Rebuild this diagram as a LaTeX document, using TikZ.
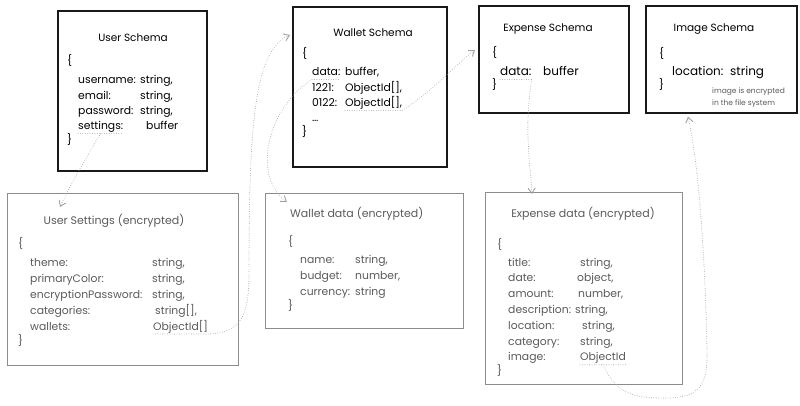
\documentclass[tikz,border=0pt]{standalone}
\usepackage{fontspec}
\setmainfont{Poppins}
\usetikzlibrary{calc,arrows.meta}
\definecolor{inkgray}{RGB}{90,90,90}
\definecolor{framegray}{RGB}{140,140,140}
\definecolor{linkgray}{RGB}{160,160,160}
\tikzset{
  schema-box/.style={draw=black!90, line width=1.6pt, anchor=north west, inner sep=0pt},
  crypt-box/.style={draw=framegray, line width=1pt, anchor=north west, inner sep=0pt},
  label-text/.style={inner sep=0pt, font=\fontsize{10.8}{13}\selectfont},
  box-title/.style={label-text, anchor=base, font=\fontsize{10.5}{13}\selectfont},
  field/.style={label-text, anchor=base west},
  field-big/.style={field, font=\fontsize{12}{14}\selectfont},
  field-gray/.style={field, text=inkgray},
  box-title-gray/.style={box-title, text=inkgray, font=\fontsize{11}{13}\selectfont},
  note/.style={field, text=inkgray, font=\fontsize{7.5}{9}\selectfont},
  underline/.style={draw=linkgray, line width=0.9pt, line cap=round, dash pattern=on 0pt off 2.4pt},
  link/.style={underline, -{Straight Barb[length=5pt,width=7pt,line cap=round]}}
}

\begin{document}
\begin{tikzpicture}[x=1pt,y=-1pt]
  \useasboundingbox (0,0) rectangle (800,406);

  % --- schema boxes (top row) ---
  \node[schema-box, minimum width=149pt, minimum height=160pt] (userschema) at (57,10) {};
  \node[schema-box, minimum width=154pt, minimum height=160pt] (walletschema) at (292,6) {};
  \node[schema-box, minimum width=150pt, minimum height=107pt] (expenseschema) at (478,5) {};
  \node[schema-box, minimum width=151pt, minimum height=107pt] (imageschema) at (645,5) {};

  % --- encrypted data boxes (bottom row) ---
  \node[crypt-box, minimum width=231pt, minimum height=172pt] (usersettings) at (7,193) {};
  \node[crypt-box, minimum width=198pt, minimum height=135pt] (walletdata) at (265,193) {};
  \node[crypt-box, minimum width=197pt, minimum height=192pt] (expensedata) at (485,192) {};

  % --- User Schema ---
  \node[box-title] (us-title) at (133,42) {User Schema};
  \node[field] (us-open) at (67,65) {\{};
  \foreach \k/\v/\vx [count=\i] in {username:/{string,}/140, email:/{string,}/140,
      password:/{string,}/140, settings:/buffer/146} {
    \node[field] (us-k\i) at (78,{84+15.3*(\i-1)}) {\k};
    \node[field] (us-v\i) at (\vx,{84+15.3*(\i-1)}) {\v};
  }
  \node[field] (us-close) at (67,144) {\}};

  % --- Wallet Schema ---
  \node[box-title] (ws-title) at (373,37) {Wallet Schema};
  \node[field] (ws-open) at (302,58) {\{};
  \foreach \k/\v [count=\i] in {data:/{buffer,}, 1221:/{ObjectId[],}, 0122:/{ObjectId[],}, \dots/{}} {
    \node[field] (ws-k\i) at (312,{76+15.3*(\i-1)}) {\k};
    \node[field] (ws-v\i) at (345,{76+15.3*(\i-1)}) {\v};
  }
  \node[field] (ws-close) at (302,136) {\}};

  % --- Expense Schema ---
  \node[box-title] (es-title) at (548,32) {Expense Schema};
  \node[field] (es-open) at (492,57) {\{};
  \node[field-big] (es-k1) at (500,76) {data:};
  \node[field-big] (es-v1) at (543,76) {buffer};
  \node[field] (es-close) at (492,89) {\}};

  % --- Image Schema ---
  \node[box-title] (is-title) at (714,32) {Image Schema};
  \node[field] (is-open) at (659,58) {\{};
  \node[field-big] (is-k1) at (672,76) {location:};
  \node[field-big] (is-v1) at (730,76) {string};
  \node[field] (is-close) at (659,89) {\}};
  \node[note] (is-note1) at (712,94) {image is encrypted};
  \node[note] (is-note2) at (712,106) {in the file system};

  % --- User Settings (encrypted) ---
  \node[box-title-gray] (set-title) at (114,225) {User Settings (encrypted)};
  \node[field-gray] (set-open) at (18,247) {\{};
  \foreach \k/\v/\vx [count=\i] in {theme:/{string,}/152, primaryColor:/{string,}/152,
      encryptionPassword:/{string,}/152, categories:/{string[],}/155, wallets:/{ObjectId[]}/153} {
    \node[field-gray] (set-k\i) at (30,{266+16*(\i-1)}) {\k};
    \node[field-gray] (set-v\i) at (\vx,{266+16*(\i-1)}) {\v};
  }
  \node[field-gray] (set-close) at (18,344) {\}};

  % --- Wallet data (encrypted) ---
  \node[box-title-gray, anchor=base west] (wd-title) at (290,217) {Wallet data (encrypted)};
  \node[field-gray] (wd-open) at (288,245) {\{};
  \foreach \k/\v [count=\i] in {name:/{string,}, budget:/{number,}, currency:/string} {
    \node[field-gray] (wd-k\i) at (300,{263+16*(\i-1)}) {\k};
    \node[field-gray] (wd-v\i) at (355,{263+16*(\i-1)}) {\v};
  }
  \node[field-gray] (wd-close) at (288,309) {\}};

  % --- Expense data (encrypted) ---
  \node[box-title-gray] (ed-title) at (583,217) {Expense data (encrypted)};
  \node[field-gray] (ed-open) at (497,248) {\{};
  \foreach \k/\v/\vx [count=\i] in {title:/{string,}/580, date:/{object,}/577, amount:/{number,}/578,
      description:/{string,}/575, location:/{string,}/582, category:/{string,}/580, image:/ObjectId/580} {
    \node[field-gray] (ed-k\i) at (508,{266+15.8*(\i-1)}) {\k};
    \node[field-gray] (ed-v\i) at (\vx,{266+15.8*(\i-1)}) {\v};
  }
  \node[field-gray] (ed-close) at (497,374) {\}};

  % --- dotted underlines of the linked fields ---
  \draw[underline] ([yshift=-3.5pt]us-k4.base west) -- ([yshift=-3.5pt]us-k4.base east);
  \draw[underline] ([yshift=-3.5pt]ws-k1.base west) -- ([yshift=-3.5pt]ws-k1.base east);
  \draw[underline] ([yshift=-4pt]ws-v3.base west) -- ([yshift=-4pt]ws-v3.base east);
  \draw[underline] ([yshift=-3.5pt]es-k1.base west) -- ([yshift=-3.5pt]es-k1.base east);
  \draw[underline] ([yshift=-4pt]set-v5.base west) -- ([yshift=-4pt]set-v5.base east);
  \draw[underline] ([yshift=-4pt]ed-v7.base west) -- ([yshift=-4pt]ed-v7.base east);

  % --- arrow ends ---
  \coordinate (set-in) at ($(usersettings.north west)+(53,14)$);
  \coordinate (ws-in) at ($(walletschema.north west)+(-2,29)$);
  \coordinate (wd-in) at ($(walletdata.north west)+(22,9)$);
  \coordinate (es-in) at ($(expenseschema.north west)+(-3,45)$);
  \coordinate (ed-in) at ($(expensedata.north west)+(47,2)$);
  \coordinate (is-in) at ($(imageschema.south west)+(43,3)$);

  % --- links ---
  \draw[link] ([yshift=-3.5pt]us-k4.base) .. controls (85,160) and (70,185) .. (set-in);
  \draw[link] ([yshift=-4pt]set-v5.base east) .. controls (245,333) and (249,310) .. (249,270)
    .. controls (249,120) and (255,50) .. (ws-in);
  \draw[link] ([yshift=-3.5pt]ws-k1.base west) .. controls (270,105) and (250,175) .. (wd-in);
  \draw[link] ([yshift=-4pt]ws-v3.base east) .. controls (440,85) and (455,65) .. (es-in);
  \draw[link] ([yshift=-3.5pt]es-k1.base east) .. controls (524,130) and (530,160) .. (ed-in);
  \draw[link] ([yshift=-4pt]ed-v7.base) .. controls (617,395) and (635,398) .. (665,398)
    .. controls (700,398) and (708,385) .. (707,350)
    .. controls (705,250) and (698,160) .. (is-in);
\end{tikzpicture}
\end{document}
